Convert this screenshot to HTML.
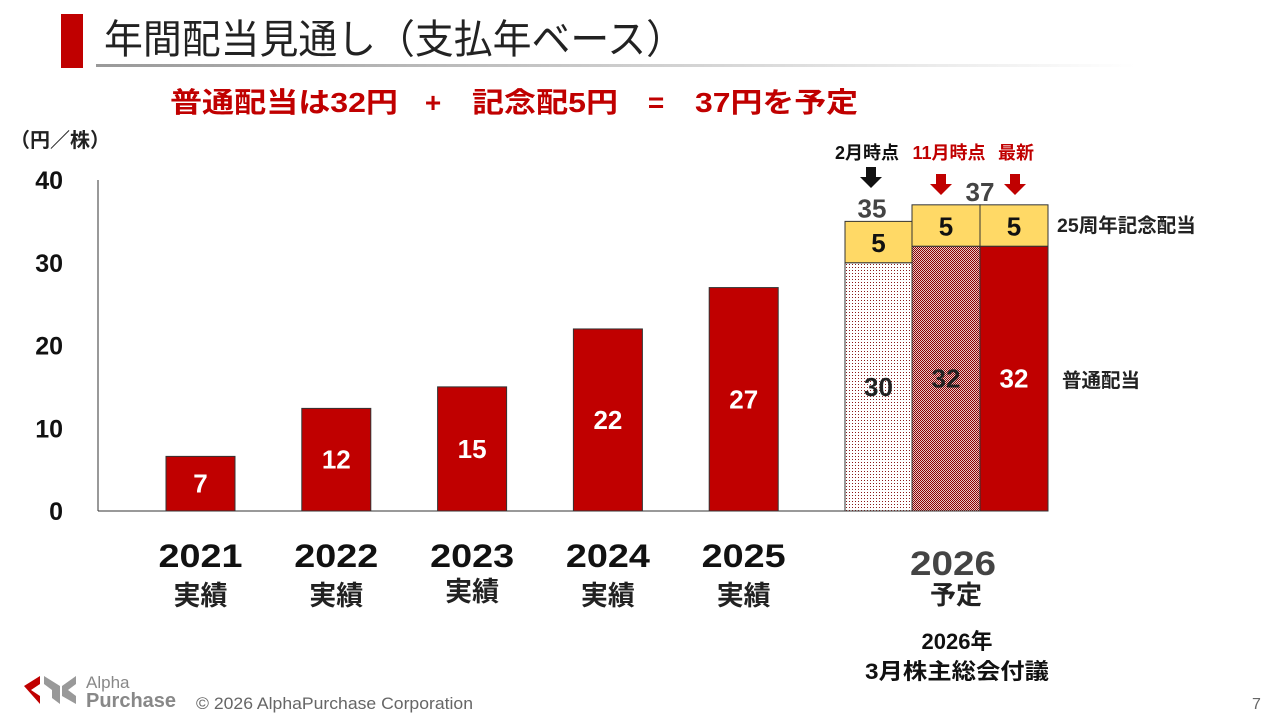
<!DOCTYPE html>
<html><head><meta charset="utf-8">
<style>
body{margin:0;width:1280px;height:720px;background:#fff;overflow:hidden;font-family:"Liberation Sans","Noto Sans CJK JP",sans-serif;}
svg{position:absolute;left:0;top:0}
</style></head>
<body>
<svg width="1280" height="720" xmlns="http://www.w3.org/2000/svg" id="chart">
<defs>
<pattern id="dots" width="3" height="3" patternUnits="userSpaceOnUse"><rect width="3" height="3" fill="#fff"/><rect width="1" height="1" fill="#8b1a1a"/></pattern>
<pattern id="check" width="2" height="2" patternUnits="userSpaceOnUse"><rect width="2" height="2" fill="#e8c8c8"/><rect width="1" height="1" fill="#8b0000"/><rect x="1" y="1" width="1" height="1" fill="#8b0000"/></pattern>
<linearGradient id="ul" x1="0" x2="1"><stop offset="0" stop-color="#999"/><stop offset="1" stop-color="#fff"/></linearGradient>
</defs>
<rect x="61" y="14" width="22" height="54" fill="#c00000"/>
<text x="104" y="53" font-size="40" textLength="581" lengthAdjust="spacingAndGlyphs" fill="#222">年間配当見通し（支払年ベース）</text>
<rect x="96" y="64" width="1040" height="3" fill="url(#ul)"/>
<g font-size="28" font-weight="bold" fill="#c00000">
<text x="170" y="112" textLength="228" lengthAdjust="spacingAndGlyphs">普通配当は32円</text>
<text x="433" y="112" text-anchor="middle">+</text>
<text x="472" y="112" textLength="146" lengthAdjust="spacingAndGlyphs">記念配5円</text>
<text x="656" y="112" text-anchor="middle">=</text>
<text x="695" y="112" textLength="163" lengthAdjust="spacingAndGlyphs">37円を予定</text>
</g>
<text x="10" y="147" font-size="20" font-weight="bold" fill="#222">（円／株）</text>
<g id="axes"></g>
<g id="bars"></g>
<text x="1057" y="232" font-size="19.5" font-weight="bold" fill="#222">25周年記念配当</text>
<text x="1062" y="387" font-size="19.5" font-weight="bold" fill="#222">普通配当</text>
<text x="957" y="649" font-size="22" font-weight="bold" fill="#111" text-anchor="middle">2026年</text>
<text x="957" y="679" font-size="22" font-weight="bold" fill="#111" text-anchor="middle" textLength="184" lengthAdjust="spacingAndGlyphs">3月株主総会付議</text>
<g>
<polygon points="24,686 40,676 40,684 31,690 40,696 40,704" fill="#c00000"/>
<polygon points="44,676 60,686 60,704 52,698 52,690 44,684" fill="#999"/>
<polygon points="62,686 76,676 76,684 68,690 76,696 76,704 62,696" fill="#999"/>
<text x="86" y="688" font-size="17" fill="#888">Alpha</text>
<text x="86" y="707" font-size="20" font-weight="bold" fill="#888">Purchase</text>
</g>
<text x="196" y="709" font-size="16.5" fill="#666" textLength="277" lengthAdjust="spacingAndGlyphs">© 2026 AlphaPurchase Corporation</text>
<text x="1252" y="709" font-size="16" fill="#666">7</text>
</svg>
<script>
const categories=["2021","2022","2023","2024","2025"];
const catSub=["実績","実績","実績","実績","実績"];
const values=[6.6,12.4,15,22,27];
const valueLabels=["7","12","15","22","27"];
const yTicks=[0,10,20,30,40];
const ordinary2026=[30,32,32];
const memorial2026=[5,5,5];
const total2026=["35","37"];
const NS="http://www.w3.org/2000/svg";
const y0=511,pxPer=8.275;
function y(v){return y0-v*pxPer;}
function xCat(i){return 166+i*135.8;}
const bw=69;
function el(tag,attrs,parent,text){const e=document.createElementNS(NS,tag);for(const k in attrs)e.setAttribute(k,attrs[k]);if(text!==undefined)e.textContent=text;parent.appendChild(e);return e;}
const axes=document.getElementById('axes'),bars=document.getElementById('bars');
let a=el('line',{x1:98,y1:y(40),x2:98,y2:y0,stroke:'#333','stroke-width':1},axes);


a=el('line',{x1:98,y1:y0,x2:1048,y2:y0,stroke:'#333','stroke-width':1},axes);


yTicks.forEach(t=>{const e=el('text',{x:63,y:y(t)+9,'font-size':25,'font-weight':'bold',fill:'#111','text-anchor':'end'},axes,String(t));

});
categories.forEach((c,i)=>{
const x=xCat(i);
const r=el('rect',{x:x,y:y(values[i]),width:bw,height:values[i]*pxPer,fill:'#c00000',stroke:'#333','stroke-width':1},bars);


const t=el('text',{x:x+bw/2,y:(y(values[i])+y0)/2+9,'font-size':26,'font-weight':'bold',fill:'#fff','text-anchor':'middle'},bars,valueLabels[i]);


const l=el('text',{x:x+bw/2,y:567,'font-size':32,'font-weight':'bold',fill:'#111','text-anchor':'middle',textLength:84,lengthAdjust:'spacingAndGlyphs'},bars,c);


const s=el('text',{x:x+bw/2,y:(i==2?601:605),'font-size':27,'font-weight':'bold',fill:'#222','text-anchor':'middle'},bars,catSub[i]);


});
const fills=['url(#dots)','url(#check)','#c00000'];
const ordColor=['#222','#222','#fff'];
const x26=[845,912,980],w26=[67,68,68];
ordinary2026.forEach((v,i)=>{
const r=el('rect',{x:x26[i],y:y(v),width:w26[i],height:v*pxPer,fill:fills[i],stroke:'#333','stroke-width':1},bars);


const t=el('text',{x:x26[i]+w26[i]/2,y:(y(v)+y0)/2+9,'font-size':26,'font-weight':'bold',fill:ordColor[i],'text-anchor':'middle'},bars,String(v));


const m=memorial2026[i];
const r2=el('rect',{x:x26[i],y:y(v+m),width:w26[i],height:m*pxPer,fill:'#ffd966',stroke:'#333','stroke-width':1},bars);


const t2=el('text',{x:x26[i]+w26[i]/2,y:(y(v+m)+y(v))/2+10,'font-size':26,'font-weight':'bold',fill:'#111','text-anchor':'middle'},bars,String(m));


});
let t=el('text',{x:872,y:y(ordinary2026[0]+memorial2026[0])-4,'font-size':26,'font-weight':'bold',fill:'#444','text-anchor':'middle'},bars,total2026[0]);


t=el('text',{x:980,y:y(ordinary2026[1]+memorial2026[1])-4,'font-size':26,'font-weight':'bold',fill:'#444','text-anchor':'middle'},bars,total2026[1]);


function arrow(cx,top,color,name){const p=el('polygon',{points:`${cx-5},${top} ${cx+5},${top} ${cx+5},${top+10} ${cx+11},${top+10} ${cx},${top+21} ${cx-11},${top+10} ${cx-5},${top+10}`,fill:color},bars);

}
arrow(871,167,'#111','arrow-feb');arrow(941,174,'#c00000','arrow-nov');arrow(1015,174,'#c00000','arrow-latest');
t=el('text',{x:867,y:159,'font-size':18,'font-weight':'bold',fill:'#111','text-anchor':'middle'},bars,'2月時点');


t=el('text',{x:949,y:159,'font-size':18,'font-weight':'bold',fill:'#c00000','text-anchor':'middle'},bars,'11月時点');


t=el('text',{x:1016,y:159,'font-size':18,'font-weight':'bold',fill:'#c00000','text-anchor':'middle'},bars,'最新');


t=el('text',{x:953,y:575,'font-size':34,'font-weight':'bold',fill:'#444','text-anchor':'middle',textLength:86,lengthAdjust:'spacingAndGlyphs'},bars,'2026');


t=el('text',{x:956,y:604,'font-size':26,'font-weight':'bold',fill:'#222','text-anchor':'middle'},bars,'予定');


</script>
</body></html>
